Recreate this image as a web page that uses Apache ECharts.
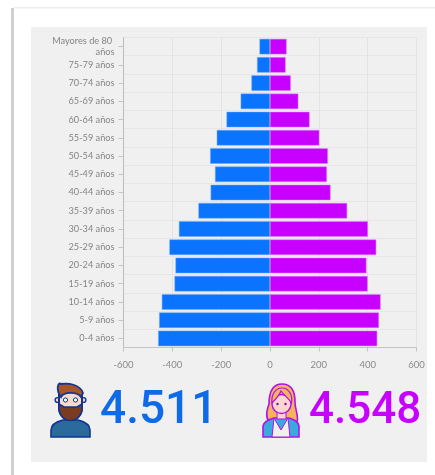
<!DOCTYPE html>
<html><head><meta charset="utf-8">
<style>html,body{margin:0;padding:0;background:#fff}#c{width:435px;height:475px;filter:blur(0.5px)}</style>
<script src="https://cdn.jsdelivr.net/npm/echarts@6/dist/echarts.min.js"></script>
</head><body><div id="c"></div>
<script>
const categories=['0-4 años','5-9 años','10-14 años','15-19 años','20-24 años','25-29 años','30-34 años','35-39 años','40-44 años','45-49 años','50-54 años','55-59 años','60-64 años','65-69 años','70-74 años','75-79 años','Mayores de 80 años'];
const hombres=[-458,-454,-443,-391,-387,-412,-373,-293,-243,-225,-245,-218,-178,-120,-76,-53,-43];
const mujeres=[439,446,453,400,395,435,401,316,248,233,237,202,162,116,85,64,68];
const totalHombres='4.511';
const totalMujeres='4.548';
const FONT='Lato, "Open Sans", sans-serif';
const chart=echarts.init(document.getElementById('c'),null,{renderer:'canvas'});

let shapeCount=0;
function P(d,fill,stroke,lw){
 const name='iconShape'+(shapeCount++);
 echarts.graphic.registerShape(name,echarts.graphic.extendPath(d));
 return {type:name,style:{fill:fill,stroke:stroke,lineWidth:lw}};
}
const NAVY='#12358f';
const man={type:'group',x:50,y:382,silent:true,children:[
 P('M1 55 L1 48 C1 43 5 40 13 38 L28 38 C36 40 40 43 40 48 L40 55 Z','#2a6a9c',NAVY,1.6),
 {type:'circle',shape:{cx:7.5,cy:18,r:2.4},style:{fill:'#f3d6c4',stroke:NAVY,lineWidth:1.4}},
 {type:'circle',shape:{cx:33.5,cy:18,r:2.4},style:{fill:'#f3d6c4',stroke:NAVY,lineWidth:1.4}},
 P('M9 10 L32 10 L32 26 C32 33 27 38 20.5 38 C14 38 9 33 9 26 Z','#f6dccc',NAVY,2),
 P('M9 12 C6 4 9 0 11 2 C18 1 30 2 33 11 L31 15 C28 10 14 9 11 15 Z','#a5562c',NAVY,1.8),
 P('M9 22 L14 25 L27 25 L32 22 C33 32 28 38.5 20.5 38.5 C13 38.5 8 32 9 22 Z','#7a3c1e',NAVY,1.5),
 {type:'circle',shape:{cx:15.5,cy:18,r:2.1},style:{fill:'#ffffff',stroke:NAVY,lineWidth:1}},
 {type:'circle',shape:{cx:25.5,cy:18,r:2.1},style:{fill:'#ffffff',stroke:NAVY,lineWidth:1}}
]};
const woman={type:'group',x:262,y:384,silent:true,children:[
 P('M7 38 C3 32 5 26 7 20 C7 5 13 0 20 0 C28 0 33 6 33 18 C33 26 37 32 35 38 Z','#f6b35a','#b012e8',1.6),
 P('M1 53 L1 42 C2 37 7 36 12 34 L27 34 C32 36 36 37 37 42 L37 53 Z','#3aa9e0','#b012e8',1.6),
 P('M12 34 L19 46 L26 34 L28 53 L10 53 Z','#f1f1ea','#b012e8',1),
 {type:'rect',shape:{x:15,y:27,width:9,height:8},style:{fill:'#fbd5cf',stroke:'#b012e8',lineWidth:1}},
 {type:'circle',shape:{cx:19.5,cy:20,r:9.5},style:{fill:'#fbd5cf',stroke:'#b012e8',lineWidth:1.4}},
 P('M10 19 C13 16 17 12 19 7 C23 12 27 15 29.5 19 C31 10 26 4 20 4 C13 4 9 11 10 19 Z','#f6b35a','#b012e8',1.2),
 {type:'circle',shape:{cx:15.5,cy:20,r:1.2},style:{fill:'#7a10b0'}},
 {type:'circle',shape:{cx:23.5,cy:20,r:1.2},style:{fill:'#7a10b0'}}
]};

chart.setOption({
 animation:false,
 backgroundColor:'#ffffff',
 graphic:[
  {type:'rect',z:-10,silent:true,shape:{x:11,y:8,width:3,height:467},style:{fill:'#d0d0d0'}},
  {type:'rect',z:-10,silent:true,shape:{x:14,y:7,width:421,height:1.5},style:{fill:'#ededed'}},
  {type:'rect',z:-9,silent:true,shape:{x:31,y:27,width:396,height:435},style:{fill:'#f0f0f0'}},
  man,woman,
  {type:'text',x:100,y:411,silent:true,style:{text:totalHombres,fontFamily:'Roboto',fontWeight:500,fontSize:46,fill:'#0f6ae8',textVerticalAlign:'middle'}},
  {type:'text',x:309,y:412,silent:true,style:{text:totalMujeres,fontFamily:'Roboto',fontWeight:500,fontSize:44,fill:'#c800ff',textVerticalAlign:'middle'}}
 ],
 grid:{left:123.5,right:18.5,top:37.5,bottom:127.5,containLabel:false},
 xAxis:{type:'value',min:-600,max:600,interval:200,
  axisLine:{show:true,onZero:false,lineStyle:{color:'#c4c4c4',width:1}},
  axisTick:{show:true,length:4,lineStyle:{color:'#c4c4c4'}},
  axisLabel:{color:'#8a8a8a',fontSize:9.5,fontFamily:FONT,margin:12,hideOverlap:false,showMinLabel:true,showMaxLabel:true},
  splitLine:{show:true,lineStyle:{color:'#e3e3e3',width:1}}},
 yAxis:{type:'category',data:categories,
  axisLine:{show:true,onZero:false,lineStyle:{color:'#bdbdbd',width:1}},
  axisTick:{show:true,alignWithLabel:true,length:5,lineStyle:{color:'#c4c4c4'}},
  axisLabel:{color:'#858585',fontSize:9.2,fontFamily:FONT,margin:9,width:72,overflow:'break',lineHeight:10.5,interval:0},
  splitLine:{show:true,interval:0,lineStyle:{color:'#e6e6e6',width:1}}},
 series:[
  {name:'Hombres',type:'bar',stack:'t',data:hombres,barWidth:15.5,itemStyle:{color:'#0a74ff',borderColor:'#6aa8ff',borderWidth:0.5}},
  {name:'Mujeres',type:'bar',stack:'t',data:mujeres,barWidth:15.5,itemStyle:{color:'#c800ff',borderColor:'#e080ff',borderWidth:0.5}}
 ]
});
</script></body></html>
